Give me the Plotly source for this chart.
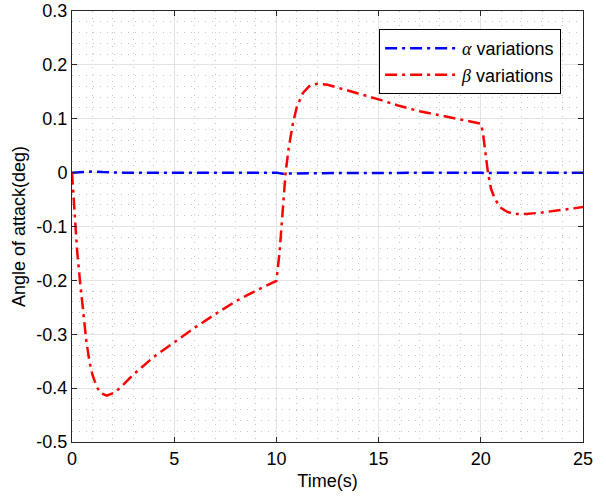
import plotly.graph_objects as go

# beta variations (deg)
t_beta = [0, 0.15, 0.25, 0.4, 0.55, 0.7, 0.85, 1.0, 1.2, 1.4, 1.7, 2.1, 2.5, 3, 4, 5, 6, 7, 8, 9, 10,
          10.15, 10.3, 10.45, 10.6, 10.8, 11.0, 11.3, 11.6, 12, 12.5, 13, 14, 15, 16, 17, 18, 19, 20,
          20.1, 20.2, 20.35, 20.5, 20.7, 21, 21.3, 21.7, 22.2, 23, 24, 25]
beta = [0, -0.08, -0.145, -0.205, -0.265, -0.312, -0.35, -0.375, -0.397, -0.409, -0.414, -0.408,
        -0.394, -0.375, -0.342, -0.315, -0.288, -0.263, -0.239, -0.219, -0.201,
        -0.15, -0.07, 0.0, 0.045, 0.09, 0.122, 0.148, 0.16, 0.165, 0.163, 0.158, 0.147, 0.136,
        0.124, 0.114, 0.106, 0.098, 0.091,
        0.075, 0.04, 0.0, -0.03, -0.05, -0.066, -0.073, -0.077, -0.077, -0.074, -0.069, -0.064]

# alpha variations (deg)
t_alpha = [0, 0.3, 0.7, 1.0, 1.5, 2.5, 4, 10, 10.3, 10.8, 12, 20, 20.3, 21, 25]
alpha = [0, 0.001, 0.002, 0.002, 0.001, 0.0, 0.0, 0.0, -0.002, -0.002, -0.001, 0.0, -0.001, 0.0, 0.0]

x_ticks = [0, 5, 10, 15, 20, 25]
y_ticks = [-0.5, -0.4, -0.3, -0.2, -0.1, 0, 0.1, 0.2, 0.3]
y_labels = ["-0.5", "-0.4", "-0.3", "-0.2", "-0.1", "0", "0.1", "0.2", "0.3"]

font = "Liberation Sans, Arial, sans-serif"
greek = "<span style='font-family:Liberation Serif, serif'><i>%s</i></span>"
dashdot = "12px,5px,3px,5px"

fig = go.Figure()
fig.add_trace(go.Scatter(x=t_alpha, y=alpha, mode="lines",
                         name=(greek % "α") + " variations",
                         line=dict(color="#0000ff", width=2.5, dash=dashdot)))
fig.add_trace(go.Scatter(x=t_beta, y=beta, mode="lines",
                         name=(greek % "β") + " variations",
                         line=dict(color="#ff0000", width=2.5, dash=dashdot)))

axis_common = dict(
    showline=True, linecolor="#262626", linewidth=1, mirror="allticks",
    ticks="inside", ticklen=5, tickcolor="#262626",
    showgrid=True, gridcolor="#e3e3e3", gridwidth=1,
    zeroline=False, automargin=False, ticklabeloverflow="allow",
    tickfont=dict(size=18, color="black", family=font),
)

fig.update_xaxes(range=[0, 25], tickvals=x_ticks, ticktext=[str(v) for v in x_ticks],
                 title=dict(text="Time(s)", font=dict(size=18, color="black", family=font), standoff=6),
                 minor=dict(dtick=1, tick0=0, showgrid=True, griddash="1px,6px", gridcolor="#c4c4c4", ticks=""),
                 **axis_common)
fig.update_yaxes(range=[-0.5, 0.3], tickvals=y_ticks, ticktext=y_labels,
                 title=dict(text="Angle of attack(deg)", font=dict(size=18, color="black", family=font), standoff=6),
                 minor=dict(dtick=0.02, tick0=0, showgrid=True, griddash="1px,6px", gridcolor="#c4c4c4", ticks=""),
                 **axis_common)

fig.update_layout(
    width=606, height=496,
    margin=dict(l=72, r=23, t=11, b=54),
    paper_bgcolor="white", plot_bgcolor="white",
    font=dict(family=font, size=18, color="black"),
    legend=dict(x=0.601, y=0.958, xanchor="left", yanchor="top",
                bgcolor="white", bordercolor="black", borderwidth=1,
                font=dict(size=18, color="black", family=font),
                tracegroupgap=0, itemwidth=72),
    showlegend=True,
)

# drop the default 8px page margin so the figure fills the window
fig.write_html("out.html", config={"displayModeBar": False},
               post_script="document.body.style.margin='0';")
